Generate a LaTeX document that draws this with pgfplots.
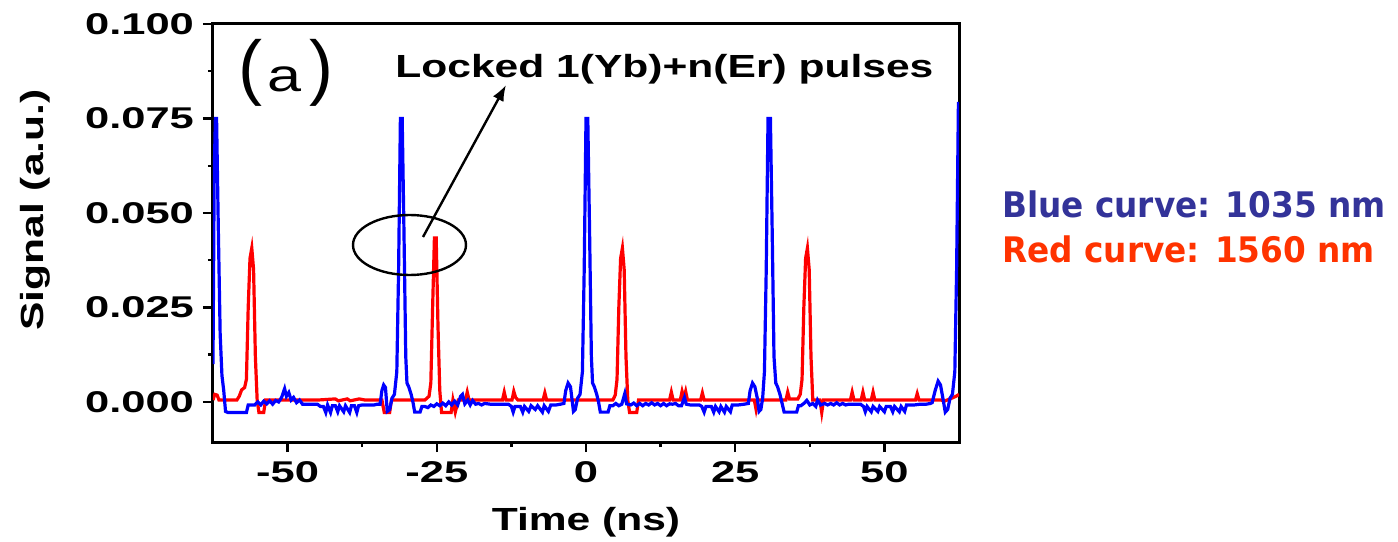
\documentclass[border=0pt]{standalone}
\usepackage{pgfplots}
\pgfplotsset{compat=1.18}
\usetikzlibrary{arrows.meta}
\usepackage{fontspec}
\setmainfont{Liberation Sans}
\newfontfamily\chartfont[FakeStretch=1.33]{Liberation Sans}
\newfontfamily\tickfont[FakeStretch=1.45]{Liberation Sans}
\newfontfamily\plainfont{Liberation Sans}
\newfontfamily\notefont[FakeStretch=0.93]{DejaVu Sans}
\definecolor{noteblue}{RGB}{51,51,153}
\definecolor{notered}{RGB}{255,51,0}
\begin{document}
\begin{tikzpicture}
\begin{axis}[
  at={(0,0)}, anchor=south west,
  scale only axis, width=373pt, height=209pt,
  xmin=-62.5, xmax=62.5, ymin=-0.0106, ymax=0.1,
  axis line style={line width=1.5pt},
  xtick={-50,-25,0,25,50}, xticklabels={-50,-25,0,25,50},
  ytick={0,0.025,0.05,0.075,0.1}, yticklabels={0.000,0.025,0.050,0.075,0.100},
  minor x tick num=1, minor y tick num=1,
  xtick pos=left, ytick pos=left,
  tick align=outside,
  major tick length=5pt, minor tick length=2.5pt,
  every tick/.style={black, line width=1.2pt},
  tick label style={font=\tickfont\bfseries\fontsize{15}{15}\selectfont, black},
  xticklabel style={yshift=-1pt},
  yticklabel style={xshift=-1pt},
  clip=true,
]
\addplot[red, line width=1.6pt] coordinates {
(-62.5,0.0005)(-62.2,0.002)(-61.8,0.0018)(-61.5,0.0005)(-60.0,0.0005)(-58.5,0.0005)
(-58.1,0.0015)(-57.7,0.0032)(-57.2,0.0038)(-56.9,0.006)(-56.6,0.025)(-56.3,0.038)
(-56.0,0.0407)(-55.7,0.035)(-55.4,0.012)(-55.1,0.0005)(-54.8,-0.0028)(-54.0,-0.0028)
(-53.7,0.0005)(-50.0,0.0005)(-45.0,0.0005)(-42.0,0.0008)(-41.5,0.0003)(-40.0,0.0008)
(-39.5,0.0003)(-38.0,0.0008)(-37.0,0.0005)(-34.2,0.0005)(-33.8,-0.0028)(-32.9,-0.0028)
(-32.6,0.0005)(-30.0,0.0005)(-27.0,0.0005)(-26.3,0.0015)(-26.0,0.005)(-25.7,0.025)
(-25.4,0.0434)(-25.1,0.0434)(-24.8,0.02)(-24.5,0.003)(-24.2,-0.0028)(-22.6,-0.0028)
(-22.3,0.0005)(-21.9,-0.0027)(-21.4,0.0005)(-20.2,0.0005)(-19.9,0.0026)(-19.6,0.0005)
(-14.0,0.0005)(-13.7,0.0026)(-13.4,0.0005)(-12.4,0.0005)(-12.1,0.0028)(-11.8,0.0012)
(-11.4,0.0005)(-7.2,0.0005)(-6.9,0.0024)(-6.6,0.0005)(-5.0,0.0005)(-2.0,0.0005)
(3.5,0.0005)(4.5,0.0005)(4.9,0.0018)(5.2,0.006)(5.5,0.025)(5.8,0.038)(6.1,0.0407)
(6.4,0.035)(6.7,0.012)(7.0,0.0005)(7.3,-0.0028)(8.5,-0.0028)(8.8,0.0005)(14.0,0.0005)
(14.3,0.0026)(14.6,0.0005)(15.8,0.0005)(16.1,0.0028)(16.4,0.0010)(16.7,0.0028)
(17.0,0.0005)(19.2,0.0005)(19.5,0.0024)(19.8,0.0005)(24.0,0.0005)(28.2,0.0005)
(28.5,-0.002)(28.8,0.0005)(33.5,0.0005)(33.8,0.0026)(34.1,0.0008)(35.5,0.0008)
(35.9,0.002)(36.2,0.006)(36.5,0.025)(36.8,0.038)(37.1,0.0407)(37.4,0.035)(37.7,0.012)
(38.0,0.0005)(39.2,0.0005)(39.5,-0.0028)(39.8,0.0005)(44.3,0.0005)(44.6,0.0026)
(44.9,0.0005)(46.1,0.0005)(46.4,0.0026)(46.7,0.0005)(47.8,0.0005)(48.1,0.0026)
(48.4,0.0005)(55.2,0.0005)(55.5,0.0022)(55.8,0.0005)(59.5,0.0005)(60.0,0.0002)
(61.0,0.0008)(62.0,0.0015)(62.5,0.0020)
};
\addplot[blue, line width=1.6pt] coordinates {
(-62.5,0.010)(-62.3,0.06)(-62.1,0.075)(-61.9,0.075)(-61.6,0.045)(-61.3,0.018)
(-61.0,0.007)(-60.7,0.003)(-60.4,-0.0025)(-60.0,-0.0028)(-57.2,-0.0028)(-56.9,-0.0028)
(-56.6,-0.0008)(-55.5,-0.0008)(-55.0,0.000)(-54.5,-0.0008)(-54.0,0.0002)(-53.5,-0.0005)
(-53.0,0.0003)(-52.5,-0.0006)(-52.0,0.0004)(-51.5,0.0000)(-51.0,0.0012)(-50.5,0.0035)
(-50.2,0.0015)(-49.8,0.0025)(-49.4,0.0005)(-49.0,0.0012)(-48.5,-0.0002)(-48.0,0.0005)
(-47.5,-0.0006)(-47.0,-0.0006)(-46.0,-0.0006)(-45.5,-0.0006)(-45.0,-0.0006)
(-44.5,-0.0012)(-44.0,-0.0012)(-43.6,-0.0028)(-43.3,-0.0008)(-42.8,-0.0028)
(-42.5,-0.0010)(-42.0,-0.0010)(-41.6,-0.0026)(-41.3,-0.0010)(-40.6,-0.0026)
(-40.3,-0.0010)(-39.6,-0.0028)(-39.3,-0.0010)(-38.8,-0.0010)(-38.4,-0.0028)
(-38.1,-0.0010)(-37.5,-0.0008)(-37.0,-0.0008)(-36.0,-0.0008)(-35.5,-0.0008)
(-35.0,-0.0006)(-34.5,-0.0006)(-34.2,0.003)(-33.9,0.0045)(-33.6,0.0038)(-33.3,-0.0025)
(-32.9,-0.002)(-32.5,0.001)(-32.1,0.002)(-31.7,0.008)(-31.4,0.035)(-31.1,0.075)
(-30.8,0.075)(-30.5,0.045)(-30.2,0.012)(-30.0,0.005)(-29.7,0.004)(-29.3,0.002)
(-29.0,0.000)(-28.7,-0.0027)(-27.8,-0.0027)(-27.5,-0.0012)(-27.0,-0.0012)
(-26.5,-0.0015)(-26.0,-0.0008)(-25.5,-0.0012)(-25.0,-0.0005)(-24.5,-0.0010)
(-24.0,-0.0003)(-23.5,-0.0010)(-23.0,0.0000)(-22.5,-0.0008)(-22.0,0.0002)
(-21.5,-0.0008)(-21.0,0.0015)(-20.7,0.0020)(-20.3,-0.0005)(-19.8,0.0005)
(-19.4,-0.0008)(-19.0,0.0004)(-18.5,-0.0006)(-18.0,-0.0004)(-17.5,-0.0008)
(-17.0,-0.0004)(-16.0,-0.0006)(-15.0,-0.0006)(-14.0,-0.0006)(-13.0,-0.0006)
(-12.5,-0.0012)(-12.2,-0.0027)(-11.9,-0.0012)(-11.0,-0.0012)(-10.6,-0.0027)
(-10.3,-0.0012)(-9.6,-0.0025)(-9.2,-0.0010)(-8.5,-0.0020)(-8.1,-0.0010)(-7.3,-0.0027)
(-7.0,-0.0010)(-6.3,-0.0025)(-5.9,-0.0008)(-5.0,-0.0008)(-4.3,-0.0006)(-3.7,-0.0004)
(-3.4,0.003)(-3.0,0.005)(-2.6,0.004)(-2.1,-0.0025)(-1.8,-0.002)(-1.4,0.001)(-1.0,0.002)
(-0.6,0.008)(-0.3,0.035)(0.0,0.075)(0.3,0.075)(0.6,0.045)(0.9,0.012)(1.1,0.005)
(1.4,0.004)(1.8,0.002)(2.1,0.000)(2.4,-0.0027)(3.7,-0.0027)(4.0,-0.0010)(4.5,-0.0010)
(5.0,-0.0004)(5.5,-0.0010)(6.0,-0.0006)(6.5,0.0022)(6.8,-0.0005)(7.5,-0.0008)
(8.0,-0.0003)(8.5,-0.0010)(9.0,-0.0004)(9.5,-0.0010)(10.0,-0.0004)(10.5,-0.0008)
(11.0,-0.0002)(11.5,-0.0008)(12.0,-0.0004)(12.5,-0.0010)(13.0,-0.0004)(13.5,-0.0010)
(14.0,-0.0005)(14.5,-0.0006)(15.0,-0.0004)(15.5,-0.0010)(16.0,-0.0010)(16.5,0.0012)
(16.8,-0.0006)(17.5,-0.0008)(18.0,-0.0008)(19.0,-0.0008)(19.4,-0.0012)(19.8,-0.0027)
(20.1,-0.0012)(21.0,-0.0012)(21.4,-0.0027)(21.7,-0.0012)(22.3,-0.0026)(22.6,-0.0012)
(23.2,-0.0027)(23.5,-0.0012)(24.2,-0.0026)(24.5,-0.0008)(25.5,-0.0008)(26.5,-0.0006)
(27.2,-0.0004)(27.5,0.003)(27.9,0.005)(28.3,0.004)(28.7,0.001)(29.0,-0.0025)
(29.3,-0.002)(29.6,0.001)(29.9,0.008)(30.2,0.035)(30.5,0.075)(30.9,0.075)(31.2,0.045)
(31.5,0.012)(31.8,0.005)(32.1,0.004)(32.5,0.002)(32.8,0.000)(33.2,-0.0027)
(35.3,-0.0027)(35.6,-0.0010)(36.0,-0.0010)(36.5,-0.0004)(37.0,0.0004)(37.5,-0.0008)
(38.0,-0.0004)(38.5,-0.0012)(38.8,0.0005)(39.3,-0.0008)(40.0,-0.0004)(40.5,-0.0008)
(41.0,-0.0004)(41.5,-0.0008)(42.0,-0.0002)(42.5,-0.0008)(43.0,-0.0004)(43.5,-0.0008)
(44.0,-0.0006)(45.0,-0.0006)(46.0,-0.0006)(46.5,-0.0012)(46.8,-0.0026)(47.1,-0.0012)
(47.8,-0.0026)(48.1,-0.0012)(48.9,-0.0025)(49.2,-0.0012)(50.0,-0.0026)(50.3,-0.0012)
(51.0,-0.0012)(51.4,-0.0026)(51.7,-0.0012)(52.5,-0.0026)(52.8,-0.0012)(53.4,-0.0025)
(53.7,-0.0008)(55.0,-0.0008)(56.0,-0.0006)(57.0,-0.0006)(57.7,-0.0004)(58.0,-0.0002)
(58.5,0.003)(59.0,0.0055)(59.4,0.0045)(59.8,0.001)(60.2,-0.0027)(60.6,-0.002)
(61.0,0.001)(61.4,0.002)(61.8,0.008)(62.1,0.035)(62.4,0.079)(62.5,0.079)
};
\end{axis}
% annotations (pt coordinates, origin = lower left corner of the axis box)
\draw[line width=1.2pt] (98.25pt,98.5pt) ellipse [x radius=28.25pt, y radius=15pt];
\draw[line width=1.2pt, -{Latex[length=8pt,width=6pt]}] (105pt,102.5pt) -- (146.5pt,178.5pt);
\node[anchor=base west, inner sep=0pt] at (12.5pt,175pt)
  {{\plainfont\fontsize{36}{36}\selectfont(}\hspace{2.5pt}{\chartfont\fontsize{23}{23}\selectfont a}\hspace{4pt}{\plainfont\fontsize{36}{36}\selectfont)}};
\node[anchor=base west, inner sep=0pt] at (91pt,182pt)
  {\chartfont\bfseries\fontsize{16}{16}\selectfont Locked 1(Yb)+n(Er) pulses};
\node[inner sep=0pt] at (186.5pt,-40pt)
  {\chartfont\bfseries\fontsize{16}{16}\selectfont Time (ns)};
\node[inner sep=0pt, rotate=90] at (-89pt,116pt)
  {\chartfont\bfseries\fontsize{16}{16}\selectfont Signal (a.u.)};
\node[anchor=base west, inner sep=0pt, text=noteblue] at (394.4pt,112pt)
  {\notefont\bfseries\fontsize{17.6}{17.6}\selectfont Blue curve: 1035 nm};
\node[anchor=base west, inner sep=0pt, text=notered] at (394.4pt,89.5pt)
  {\notefont\bfseries\fontsize{17.6}{17.6}\selectfont Red curve: 1560 nm};
\pgfresetboundingbox
\path (-106.5pt,-49.5pt) rectangle (592.5pt,221pt);
\end{tikzpicture}
\end{document}
